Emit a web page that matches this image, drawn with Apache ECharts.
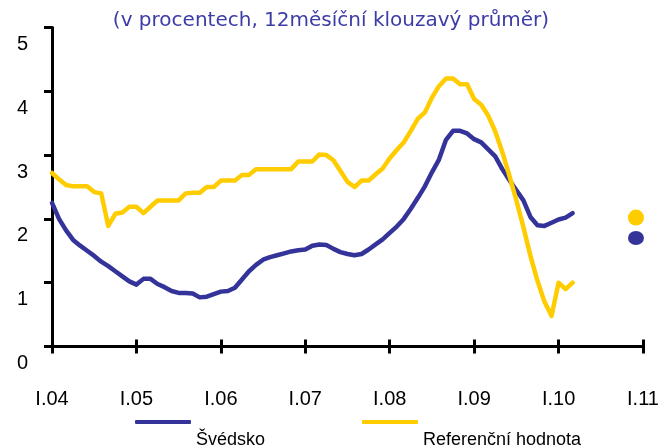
<!DOCTYPE html>
<html>
<head>
<meta charset="utf-8">
<script src="https://cdn.jsdelivr.net/npm/echarts@6/dist/echarts.min.js"></script>
<style>
    html, body { margin: 0; padding: 0; background: #fff; }
    #chart { width: 663px; height: 447px; }
</style>
</head>
<body>
<div id="chart"></div>
<script>
// měsíční data od I.04 (index 0 = leden 2004)
var svedsko = [2.25, 2.00, 1.82, 1.67, 1.58, 1.50, 1.42, 1.33, 1.26, 1.18, 1.10, 1.02,
    0.97, 1.06, 1.06, 0.98, 0.93, 0.87, 0.84, 0.84, 0.83, 0.77, 0.78, 0.82,
    0.86, 0.87, 0.92, 1.05, 1.18, 1.28, 1.36, 1.40, 1.43, 1.46, 1.49, 1.51,
    1.52, 1.58, 1.60, 1.59, 1.53, 1.48, 1.45, 1.43, 1.45, 1.52, 1.60, 1.68,
    1.78, 1.88, 2.00, 2.16, 2.33, 2.51, 2.73, 2.93, 3.24, 3.38, 3.38, 3.34,
    3.25, 3.20, 3.09, 2.98, 2.78, 2.61, 2.45, 2.29, 2.03, 1.90, 1.89, 1.94,
    1.99, 2.02, 2.09]
var referencni = [2.72, 2.62, 2.53, 2.51, 2.51, 2.51, 2.42, 2.40, 1.89, 2.08, 2.10, 2.19,
    2.19, 2.09, 2.19, 2.29, 2.29, 2.29, 2.29, 2.40, 2.41, 2.41, 2.50, 2.50,
    2.60, 2.60, 2.60, 2.69, 2.69, 2.78, 2.78, 2.78, 2.78, 2.78, 2.78, 2.90,
    2.90, 2.90, 3.01, 3.00, 2.92, 2.75, 2.58, 2.50, 2.60, 2.60, 2.70, 2.79,
    2.95, 3.08, 3.20, 3.38, 3.57, 3.67, 3.90, 4.08, 4.20, 4.20, 4.11, 4.11,
    3.88, 3.79, 3.62, 3.37, 3.05, 2.68, 2.29, 1.87, 1.42, 1.03, 0.70, 0.48,
    1.00, 0.90, 1.00]
// body pro konec roku 2010 (index 83 = prosinec 2010)
var bodSvedsko = [83, 1.70]
var bodReferencni = [83, 2.02]

var yearLabels = ['I.04', 'I.05', 'I.06', 'I.07', 'I.08', 'I.09', 'I.10', 'I.11']
var blue = '#333399'
var yellow = '#ffcc00'

function toPairs(arr) {
    return arr.map(function (v, i) {
        return [i, v]
    })
}

function legendDef(name, left) {
    return {
        data: [name],
        left: left,
        top: 381,
        icon: 'roundRect',
        itemWidth: 56,
        itemHeight: 4,
        itemGap: 0,
        formatter: function (n) {
            return '\n' + n
        },
        textStyle: {
            fontFamily: 'Liberation Sans',
            fontSize: 18,
            lineHeight: 36,
            color: '#000'
        }
    }
}

var chart = echarts.init(document.getElementById('chart'))

var option = {
    animation: false,
    title: {
        text: '(v procentech, 12měsíční klouzavý průměr)',
        left: 326,
        textAlign: 'center',
        top: 6,
        textStyle: {
            color: '#3c3ca8',
            fontFamily: 'DejaVu Sans',
            fontWeight: 'normal',
            fontSize: 20
        }
    },
    grid: {
        left: 52,
        right: 20,
        top: 27.5,
        bottom: 100.5,
        containLabel: false,
        outerBoundsMode: 'none'
    },
    legend: [
        legendDef('Švédsko', 130),
        legendDef('Referenční hodnota', 357)
    ],
    xAxis: [
        {
            type: 'value',
            min: 0,
            max: 84,
            interval: 12,
            axisLine: {lineStyle: {color: '#000', width: 3}},
            axisTick: {show: true, length: 7, lineStyle: {color: '#000', width: 3}},
            axisLabel: {
                margin: 43,
                fontFamily: 'Liberation Sans',
                fontSize: 20,
                color: '#000',
                showMinLabel: true,
                showMaxLabel: true,
                formatter: function (v) {
                    return yearLabels[v / 12]
                }
            },
            splitLine: {show: false}
        },
        {
            type: 'value',
            position: 'bottom',
            min: 0,
            max: 84,
            interval: 12,
            axisLine: {show: false},
            axisTick: {show: true, inside: true, length: 7, lineStyle: {color: '#000', width: 3}},
            axisLabel: {show: false},
            splitLine: {show: false}
        }
    ],
    yAxis: {
        type: 'value',
        min: 0,
        max: 5,
        interval: 1,
        axisLine: {show: true, lineStyle: {color: '#000', width: 3}},
        axisTick: {show: true, length: 8, lineStyle: {color: '#000', width: 3}},
        axisLabel: {
            margin: 24,
            fontFamily: 'Liberation Sans',
            fontSize: 20,
            lineHeight: 34,
            verticalAlign: 'top',
            color: '#000',
            showMinLabel: true,
            showMaxLabel: true
        },
        splitLine: {show: false}
    },
    series: [
        {
            name: 'Švédsko',
            type: 'line',
            data: toPairs(svedsko),
            showSymbol: false,
            symbol: 'none',
            color: blue,
            lineStyle: {width: 4.5, color: blue, cap: 'round', join: 'round'}
        },
        {
            name: 'Referenční hodnota',
            type: 'line',
            data: toPairs(referencni),
            showSymbol: false,
            symbol: 'none',
            color: yellow,
            lineStyle: {width: 4.5, color: yellow, cap: 'round', join: 'round'}
        },
        {
            name: 'bod ref',
            type: 'scatter',
            data: [bodReferencni],
            symbol: 'circle',
            symbolSize: 16,
            itemStyle: {color: yellow, opacity: 1}
        },
        {
            name: 'bod sv',
            type: 'scatter',
            data: [bodSvedsko],
            symbol: 'circle',
            symbolSize: [16, 14],
            itemStyle: {color: blue, opacity: 1}
        }
    ]
}

chart.setOption(option)
</script>
</body>
</html>
